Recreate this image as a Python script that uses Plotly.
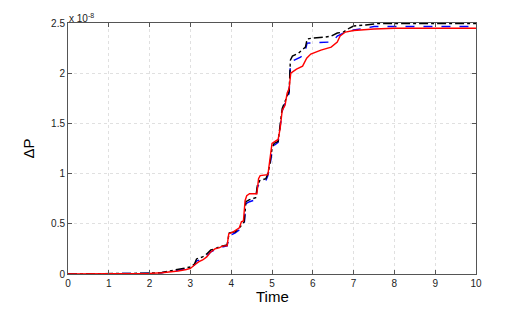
import plotly.graph_objects as go

# values in units of 1e-8
t_red = [0, 1.0, 1.5, 2.0, 2.3, 2.5, 2.7, 2.9, 3.0, 3.1, 3.2, 3.3, 3.4, 3.5, 3.6, 3.7, 3.8, 3.9, 3.94, 4.05,
         4.2, 4.25, 4.3, 4.34, 4.38, 4.45, 4.63, 4.67, 4.71, 4.9, 4.95, 5.0, 5.15, 5.2, 5.25, 5.32, 5.37, 5.42,
         5.46, 5.6, 5.75, 5.85, 5.95, 6.2, 6.45, 6.6, 6.67, 6.8, 7.0, 7.5, 8.0, 10.0]
v_red = [0, 0.001, 0.003, 0.006, 0.012, 0.02, 0.03, 0.045, 0.055, 0.09, 0.12, 0.14, 0.17, 0.22, 0.25, 0.26,
         0.28, 0.28, 0.40, 0.42, 0.46, 0.52, 0.53, 0.73, 0.78, 0.80, 0.80, 0.95, 0.98, 0.99, 1.15, 1.30, 1.34,
         1.45, 1.63, 1.68, 1.80, 1.85, 2.0, 2.04, 2.07, 2.15, 2.19, 2.23, 2.26, 2.31, 2.37, 2.41, 2.425, 2.44,
         2.447, 2.447]

t_blk = [0, 1.0, 1.5, 2.0, 2.3, 2.5, 2.6, 2.8, 3.0, 3.1, 3.15, 3.3, 3.4, 3.5, 3.6, 3.7, 3.8, 3.9, 3.95, 4.1,
         4.2, 4.28, 4.32, 4.36, 4.45, 4.6, 4.64, 4.7, 4.85, 4.9, 4.95, 5.0, 5.05, 5.15, 5.2, 5.25, 5.3, 5.35,
         5.42, 5.45, 5.5, 5.65, 5.75, 5.82, 5.86, 6.0, 6.3, 6.45, 6.6, 6.75, 6.9, 7.0, 7.3, 7.6, 10.0]
v_blk = [0, 0.002, 0.005, 0.008, 0.015, 0.03, 0.04, 0.05, 0.07, 0.10, 0.15, 0.17, 0.20, 0.24, 0.25, 0.27,
         0.28, 0.29, 0.41, 0.42, 0.46, 0.50, 0.52, 0.72, 0.74, 0.76, 0.88, 0.93, 0.95, 1.0, 1.1, 1.25, 1.30,
         1.32, 1.5, 1.65, 1.70, 1.75, 1.82, 2.13, 2.17, 2.20, 2.24, 2.26, 2.34, 2.35, 2.36, 2.37, 2.40, 2.41,
         2.45, 2.47, 2.48, 2.495, 2.495]

t_blu = [0, 1.0, 1.5, 2.0, 2.3, 2.5, 2.6, 2.8, 3.0, 3.1, 3.15, 3.3, 3.4, 3.5, 3.6, 3.7, 3.8, 3.9, 3.95, 4.0,
         4.1, 4.2, 4.28, 4.32, 4.36, 4.45, 4.6, 4.64, 4.7, 4.85, 4.9, 4.95, 5.0, 5.05, 5.15, 5.2, 5.25, 5.3,
         5.35, 5.42, 5.45, 5.5, 5.7, 5.8, 5.86, 6.4, 6.5, 6.6, 6.75, 7.0, 7.3, 7.5, 10.0]
v_blu = [0, 0.001, 0.004, 0.007, 0.013, 0.025, 0.035, 0.045, 0.065, 0.09, 0.13, 0.15, 0.18, 0.22, 0.24,
         0.26, 0.27, 0.28, 0.38, 0.39, 0.41, 0.44, 0.48, 0.50, 0.70, 0.72, 0.74, 0.86, 0.91, 0.93, 0.98, 1.08,
         1.22, 1.28, 1.31, 1.48, 1.62, 1.68, 1.73, 1.80, 2.08, 2.12, 2.16, 2.20, 2.30, 2.31, 2.32, 2.37, 2.40,
         2.43, 2.45, 2.465, 2.465]

x_ticks = [0, 1, 2, 3, 4, 5, 6, 7, 8, 9, 10]
y_ticks = [0, 0.5, 1, 1.5, 2, 2.5]
y_tick_text = ["0", "0.5", "1", "1.5", "2", "2.5"]

fig = go.Figure()
fig.add_trace(go.Scatter(x=t_blu, y=v_blu, mode="lines",
                         line=dict(color="#0000ff", width=1.4, dash="dash"), showlegend=False))
fig.add_trace(go.Scatter(x=t_blk, y=v_blk, mode="lines",
                         line=dict(color="#000000", width=1.4, dash="dashdot"), showlegend=False))
fig.add_trace(go.Scatter(x=t_red, y=v_red, mode="lines",
                         line=dict(color="#ff0000", width=1.4), showlegend=False))

axis_common = dict(showline=True, linecolor="#555555", linewidth=1, mirror="ticks",
                   ticks="inside", ticklen=4, tickcolor="#555555",
                   showgrid=True, gridcolor="#e0e0e0", griddash="dot", gridwidth=1,
                   zeroline=False, automargin=False, tickfont=dict(size=10, color="#222222"))

fig.update_xaxes(range=[0, 10], tickvals=x_ticks, ticktext=[str(v) for v in x_ticks],
                 **axis_common)
fig.update_yaxes(range=[0, 2.5], tickvals=y_ticks, ticktext=y_tick_text,
                 title=dict(text="ΔP", font=dict(size=15, color="#000000"), standoff=12),
                 **axis_common)

fig.add_annotation(text="Time", xref="paper", yref="paper", x=0.5, y=0,
                   xanchor="center", yanchor="middle", showarrow=False, yshift=-22,
                   font=dict(size=15, color="#000000"))

fig.add_annotation(text="x 10<sup>-8</sup>", xref="paper", yref="paper", x=0.0, y=1.0,
                   xanchor="left", yanchor="bottom", showarrow=False, xshift=-1, yshift=-3,
                   font=dict(size=10, color="#222222"))

# page body has an 8px default margin, so the figure is offset by 8px
fig.update_layout(width=518, height=301, margin=dict(l=60, r=50, t=15, b=35, autoexpand=False),
                  plot_bgcolor="white", paper_bgcolor="white",
                  font=dict(family="Liberation Sans, Arial, sans-serif"))

fig.write_html("out.html")
